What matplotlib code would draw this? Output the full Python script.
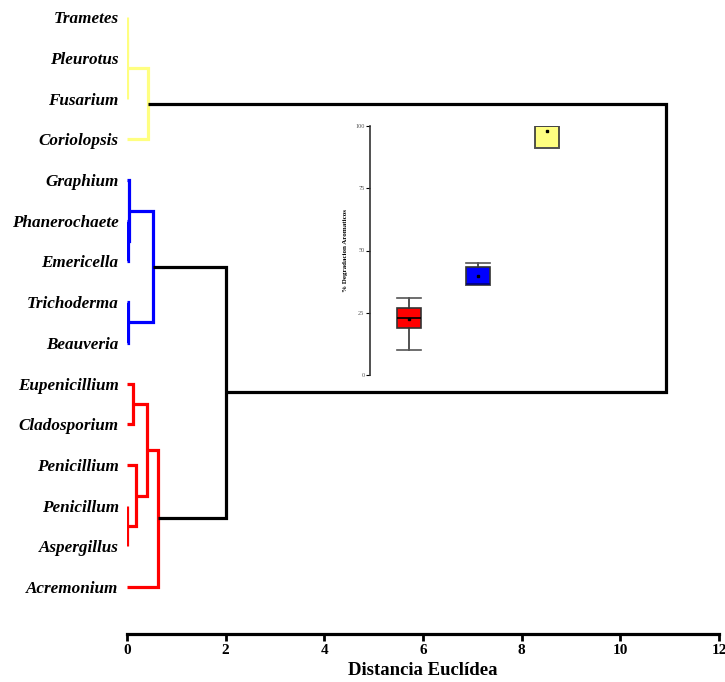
"""
Dendrograma de hongos (distancia euclídea) con boxplot insertado
de % degradación de aromáticos por grupo.
"""

import matplotlib.pyplot as plt
import numpy as np

# hojas del dendrograma, de arriba hacia abajo
hojas = ["Trametes", "Pleurotus", "Fusarium", "Coriolopsis", "Graphium",
         "Phanerochaete", "Emericella", "Trichoderma", "Beauveria",
         "Eupenicillium", "Cladosporium", "Penicillium", "Penicillum",
         "Aspergillus", "Acremonium"]

# uniones: (nodo_a, nodo_b, distancia, color); nodos nuevos = 15, 16, ...
uniones = [
    (0, 1, 0.0, "#FFFF80"),
    (15, 2, 0.0, "#FFFF80"),
    (16, 3, 0.42, "#FFFF80"),
    (5, 6, 0.02, "#0000FF"),
    (4, 18, 0.05, "#0000FF"),
    (7, 8, 0.03, "#0000FF"),
    (19, 20, 0.52, "#0000FF"),
    (9, 10, 0.12, "#FF0000"),
    (12, 13, 0.0, "#FF0000"),
    (11, 23, 0.18, "#FF0000"),
    (22, 24, 0.41, "#FF0000"),
    (25, 14, 0.63, "#FF0000"),
    (21, 26, 2.0, "black"),
    (17, 27, 10.93, "black"),
]

# boxplot insertado (% degradación aromáticos): rojo, azul, amarillo
box_q1 = [18.8, 36.0, 91.0]
box_med = [22.8, 36.5, 100.0]
box_q3 = [27.0, 43.2, 100.0]
box_lo = [10.0, 36.0, 91.0]
box_hi = [31.0, 44.9, 100.0]
box_mean = [22.4, 39.8, 97.9]
box_col = ["#FF0000", "#0000FF", "#FFFF80"]
med_col = ["black", "#00007A", "#444444"]

plt.rcParams["font.family"] = ["Liberation Serif", "DejaVu Serif"]

fig = plt.figure(figsize=(7.25, 6.82), dpi=100)
ax = fig.add_axes([127 / 725, 48 / 682, 592 / 725, 634 / 682])

# posiciones de nodos
pos_y = {i: float(i) for i in range(len(hojas))}
pos_x = {i: 0.0 for i in range(len(hojas))}
for k, (a, b, d, c) in enumerate(uniones):
    nuevo = len(hojas) + k
    ax.plot([pos_x[a], d, d, pos_x[b]], [pos_y[a], pos_y[a], pos_y[b], pos_y[b]],
            color=c, lw=2.3, solid_joinstyle="miter", solid_capstyle="butt")
    pos_x[nuevo] = d
    pos_y[nuevo] = (pos_y[a] + pos_y[b]) / 2

ax.set_xlim(0, 12)
ax.set_ylim(15.15, -0.42)
ax.set_yticks(range(len(hojas)))
ax.set_yticklabels(hojas, fontsize=12.3, fontweight="bold", fontstyle="italic")
ax.tick_params(axis="y", length=0, pad=6)
ax.set_xticks(np.arange(0, 13, 2))
ax.tick_params(axis="x", length=5, width=2, labelsize=11, pad=2)
for lab in ax.get_xticklabels():
    lab.set_fontweight("bold")
for s in ["left", "top", "right"]:
    ax.spines[s].set_visible(False)
ax.spines["bottom"].set_linewidth(2.3)
ax.set_xlabel("Distancia Euclídea", fontsize=13.5, fontweight="bold", labelpad=4)

# boxplot insertado
ins = fig.add_axes([370 / 725, 307 / 682, 211.5 / 725, 249 / 682])
ins.patch.set_alpha(0)
stats = []
for i in range(3):
    stats.append(dict(q1=box_q1[i], med=box_med[i], q3=box_q3[i],
                      whislo=box_lo[i], whishi=box_hi[i], mean=box_mean[i]))
res = ins.bxp(stats, positions=[1, 2, 3], widths=0.35, capwidths=0.35,
              showmeans=True, showfliers=False, patch_artist=True,
              boxprops=dict(edgecolor="#333333", lw=1.2),
              whiskerprops=dict(color="#333333", lw=1.2),
              capprops=dict(color="#555555", lw=1.2),
              meanprops=dict(marker="s", markersize=1.6, markerfacecolor="black",
                             markeredgecolor="black"))
for caja, col in zip(res["boxes"], box_col):
    caja.set_facecolor(col)
for med, col in zip(res["medians"], med_col):
    med.set_color(col)
    med.set_linewidth(1.2)

ins.set_xlim(0.435, 3.5)
ins.set_ylim(0, 100)
ins.set_yticks([0, 25, 50, 75, 100])
ins.set_yticklabels(["0", "25", "50", "75", "100"])
ins.tick_params(axis="y", length=3, width=0.8, labelsize=4.5, pad=1,
                labelcolor="#555555")
ins.set_xticks([])
for s in ["top", "right", "bottom"]:
    ins.spines[s].set_visible(False)
ins.spines["left"].set_linewidth(1.2)
ins.spines["left"].set_color("#333333")
ins.set_ylabel("% Degradacion Aromaticos", fontsize=5, fontweight="bold",
               labelpad=5)

fig.savefig("out.png", dpi=100, facecolor="white")
